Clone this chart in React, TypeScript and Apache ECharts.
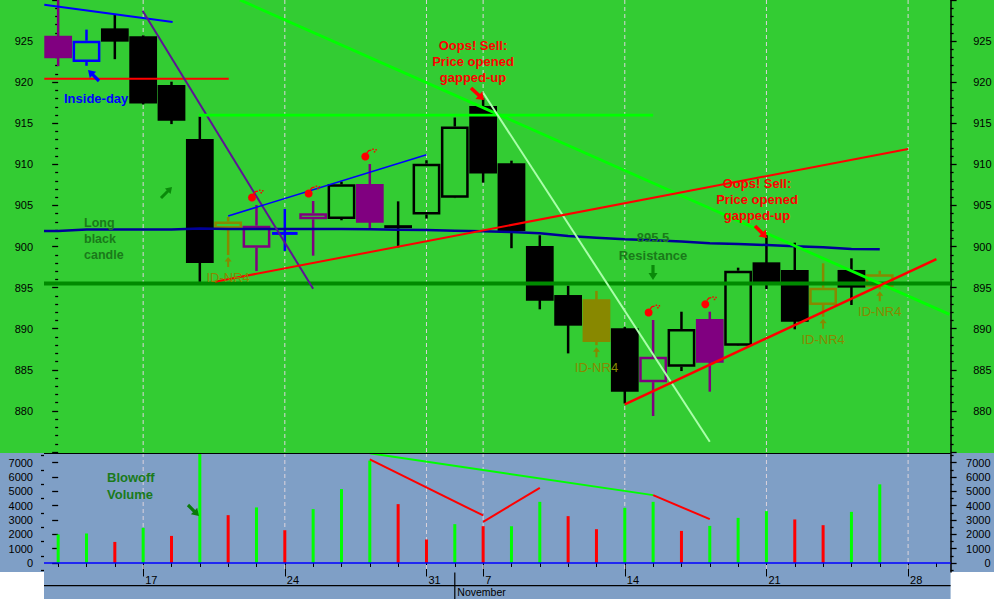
import React, { useEffect, useRef } from 'react';
import * as echarts from 'echarts';

// ---------- data ----------
const dayLabels = ['', '', '', '17', '', '', '', '', '24', '', '', '', '', '31', '', '7', '', '', '', '', '14', '', '', '', '', '21', '', '', '', '', '28', ''];
const monthName = 'November';
const monthStartBar = 14;

const opens = [925.65, 922.45, 926.55, 925.6, 919.66, 913.1, 902.2, 899.86, 901.6, 903.31, 903.35, 907.6, 902.6, 903.9, 905.95, 917.1, 910.13, 900.07, 894.1, 893.6, 890.05, 883.5, 885.38, 891.18, 887.94, 898.08, 897.15, 892.89, 897.15, 895.11];
const highs = [930.2, 926.4, 928.2, 925.7, 920.06, 915.8, 903.6, 905.05, 904.57, 905.54, 907.9, 910.04, 905.5, 910.5, 915.7, 918.04, 910.45, 901.37, 895.24, 894.6, 890.2, 891.06, 892.07, 892.07, 897.43, 901.4, 900.47, 897.96, 898.57, 897.06];
const lows = [921.95, 922.0, 922.8, 917.3, 914.9, 895.7, 898.97, 897.02, 899.46, 898.89, 903.2, 902.2, 899.9, 903.4, 905.9, 907.77, 899.8, 892.36, 887.0, 888.0, 880.9, 879.38, 884.85, 882.34, 887.9, 894.83, 889.93, 891.46, 892.89, 894.8];
const closes = [922.9, 925.05, 924.93, 917.4, 915.3, 898.0, 903.05, 902.54, 901.6, 904.04, 907.57, 902.9, 902.25, 910.08, 914.6, 908.9, 901.9, 893.4, 890.37, 888.4, 882.34, 886.6, 889.97, 885.87, 897.06, 895.65, 890.86, 894.99, 895.0, 896.62];
const candleColors = ['purple', 'blue', 'black', 'black', 'black', 'black', 'olive', 'purple', 'blue', 'purple', 'black', 'purple', 'black', 'black', 'black', 'black', 'black', 'black', 'black', 'olive', 'black', 'purple', 'black', 'purple', 'black', 'black', 'black', 'olive', 'black', 'olive'];
const movingAverage = [901.89, 902.07, 902.07, 902.07, 902.07, 902.2, 902.13, 902.13, 902.13, 902.13, 902.13, 902.1, 902.05, 902.0, 901.93, 901.85, 901.77, 901.61, 901.28, 901.08, 900.88, 900.76, 900.61, 900.39, 900.31, 900.19, 900.03, 899.91, 899.7, 899.67];

const volumes = [1990, 2060, 1470, 2450, 1890, 7900, 3340, 3880, 2290, 3760, 5160, 7150, 4110, 1640, 2710, 2570, 2570, 4270, 3270, 2360, 3850, 4270, 2240, 2590, 3150, 3620, 3040, 2640, 3570, 5490];
const volumeDirection = ['up', 'up', 'down', 'up', 'down', 'up', 'down', 'up', 'down', 'up', 'up', 'up', 'down', 'down', 'up', 'down', 'up', 'up', 'down', 'down', 'up', 'up', 'down', 'up', 'up', 'up', 'down', 'down', 'up', 'up'];

const priceMin = 875;
const priceMax = 930;
const priceTickStep = 5;
const volumeMin = -630;
const volumeMax = 7680;
const volumeLabelTicks = [0, 1000, 2000, 3000, 4000, 5000, 6000, 7000];
const volumeMinorTicks = [-500, 500, 1500, 2500, 3500, 4500, 5500, 6500, 7500];

const resistanceLevel = 895.5;
const idNr4Bars = [6, 19, 27, 29];
const bombBars = [7, 9, 11, 21, 23];

// trendlines: [barIndex, price]
const priceTrendlines = [
  { color: '#0000FF', width: 2, points: [[-0.49, 929.43], [4.04, 927.32]] },
  { color: '#FF0000', width: 2, points: [[-0.49, 920.43], [6.02, 920.43]] },
  { color: '#5E1396', width: 2, points: [[2.98, 928.7], [9.0, 894.87]] },
  { color: '#00FF00', width: 2.8, points: [[6.42, 930], [31.46, 891.75]] },
  { color: '#00FF00', width: 2.8, points: [[4.97, 916.0], [21.0, 916.0]] },
  { color: '#AAFFAA', width: 2, points: [[15.0, 918.72], [23.0, 876.25]] },
  { color: '#0000FF', width: 1.5, points: [[6.0, 903.72], [13.0, 911.18]] },
  { color: '#FF0000', width: 2, points: [[5.54, 895.72], [30.0, 911.87]] },
  { color: '#FF0000', width: 2.5, points: [[20.0, 880.8], [31.0, 898.48]] },
];
// volume trendlines: [barIndex, volume]
const volumeTrendlines = [
  { color: '#00FF00', width: 2, points: [[11.0, 7656], [21.0, 4738]] },
  { color: '#FF0000', width: 2, points: [[11.0, 7236], [15.0, 3317]] },
  { color: '#FF0000', width: 2, points: [[15.0, 2869], [17.0, 5248]] },
  { color: '#FF0000', width: 2, points: [[21.0, 4738], [23.0, 3058]] },
];

const FONT = "'Liberation Sans', Arial, sans-serif";
const GREEN_BG = '#33CC33';
const BLUE_BG = '#7F9FC6';
const DARK_GREEN_TEXT = '#1A7A1A';
const OLIVE = '#888800';
const palette: Record<string, string> = { black: '#000000', purple: '#800080', blue: '#0000FF', olive: OLIVE };
const colorKeys = ['black', 'purple', 'blue', 'olive'];

function arrow(x0: number, y0: number, x1: number, y1: number, color: string, shaft = 1.6, headW = 5, headL = 7) {
  const dx = x1 - x0, dy = y1 - y0;
  const L = Math.hypot(dx, dy);
  const ux = dx / L, uy = dy / L;
  const nx = -uy, ny = ux;
  const bx = x1 - ux * headL, by = y1 - uy * headL;
  const pts = [
    [x0 + nx * shaft, y0 + ny * shaft],
    [bx + nx * shaft, by + ny * shaft],
    [bx + nx * headW, by + ny * headW],
    [x1, y1],
    [bx - nx * headW, by - ny * headW],
    [bx - nx * shaft, by - ny * shaft],
    [x0 - nx * shaft, y0 - ny * shaft],
  ];
  return { type: 'polygon', shape: { points: pts }, style: { fill: color }, z: 60, silent: true };
}

function bomb(x: number, y: number) {
  return [
    { type: 'circle', shape: { cx: x, cy: y, r: 4 }, style: { fill: '#FF0000' }, z: 60, silent: true },
    { type: 'polyline', shape: { points: [[x + 1.5, y - 3.5], [x + 3.5, y - 6], [x + 6, y - 6.5]] }, style: { stroke: '#FF0000', lineWidth: 1.3, fill: 'none' }, z: 60, silent: true },
    { type: 'rect', shape: { x: x + 7, y: y - 8, width: 1.5, height: 1.5 }, style: { fill: '#FF0000' }, z: 60, silent: true },
    { type: 'rect', shape: { x: x + 8.5, y: y - 5.5, width: 1.5, height: 1.5 }, style: { fill: '#FF0000' }, z: 60, silent: true },
    { type: 'rect', shape: { x: x + 10, y: y - 7.5, width: 1.5, height: 1.5 }, style: { fill: '#FF0000' }, z: 60, silent: true },
  ];
}

function text(t: string, x: number, y: number, color: string, font: string, align = 'left', lineHeight = 16, verticalAlign = 'top') {
  return {
    type: 'text',
    x, y,
    z: 60,
    silent: true,
    style: { text: t, fill: color, font, align, verticalAlign, lineHeight },
  };
}

export default function App() {
  const ref = useRef<HTMLDivElement>(null);

  useEffect(() => {
    const el = ref.current;
    if (!el) return;
    const chart = echarts.init(el, null, { renderer: 'svg' });

    const candleData = opens.map((o, i) => [i, o, closes[i], lows[i], highs[i], colorKeys.indexOf(candleColors[i])]);
    const gridBars = dayLabels.map((d, i) => (d ? i : -1)).filter((i) => i >= 0);
    const catData = dayLabels.map((_, i) => 'd' + i);

    const gridLeft = 44;
    const gridRight = 994 - 950.6;

    const priceAxisBase = (position: string) => ({
      type: 'value',
      gridIndex: 0,
      position,
      min: priceMin,
      max: priceMax,
      interval: priceTickStep,
      axisLine: { show: position === 'right', lineStyle: { color: '#000', width: 1.5 } },
      axisTick: { show: true, length: 6, lineStyle: { color: '#000', width: 1.3 } },
      minorTick: { show: true, splitNumber: 5, length: 3, lineStyle: { color: '#000', width: 1.3 } },
      axisLabel: {
        color: '#000', fontSize: 11, fontFamily: FONT,
        margin: position === 'right' ? 41 : 11,
        align: 'right',
        showMinLabel: false, showMaxLabel: false,
        formatter: (v: number) => String(v),
      },
      splitLine: { show: false },
      minorSplitLine: { show: false },
    });

    const volAxis = (position: string, minor: boolean) => ({
      type: 'value',
      gridIndex: 1,
      position,
      min: volumeMin,
      max: volumeMax,
      axisLine: { show: position === 'right' && !minor, lineStyle: { color: '#000', width: 1.5 } },
      axisTick: { show: true, length: minor ? 3 : 6, customValues: minor ? volumeMinorTicks : volumeLabelTicks, lineStyle: { color: '#000', width: 1.3 } },
      axisLabel: minor
        ? { show: false }
        : {
            show: true, customValues: volumeLabelTicks, color: '#000', fontSize: 11, fontFamily: FONT,
            margin: position === 'right' ? 40 : 11, align: 'right',
            formatter: (v: number) => String(Math.round(v)),
          },
      splitLine: { show: false },
    });

    const lineSeries = (tl: any, xi: number, yi: number) => ({
      type: 'line',
      xAxisIndex: xi,
      yAxisIndex: yi,
      data: tl.points,
      symbol: 'none',
      showSymbol: false,
      silent: true,
      z: 4,
      lineStyle: { color: tl.color, width: tl.width },
    });

    const gridLineSeries = (xi: number, yi: number, yRef: number) => ({
      type: 'custom',
      xAxisIndex: xi,
      yAxisIndex: yi,
      silent: true,
      z: 1,
      data: gridBars.map((i) => [i, yRef]),
      encode: { x: 0, y: 1 },
      renderItem: (params: any, api: any) => {
        const x = api.coord([api.value(0), api.value(1)])[0];
        const cs = params.coordSys;
        return {
          type: 'line',
          shape: { x1: x, y1: cs.y, x2: x, y2: cs.y + cs.height },
          style: { stroke: '#DCD4DC', lineWidth: 1, lineDash: [4, 3] },
        };
      },
    });

    const option: any = {
      animation: false,
      backgroundColor: 'transparent',
      grid: [
        { left: gridLeft, right: gridRight, top: 0, height: 452, containLabel: false, outerBoundsMode: 'none' },
        { left: gridLeft, right: gridRight, top: 453, height: 119, containLabel: false, outerBoundsMode: 'none' },
      ],
      xAxis: [
        { type: 'value', gridIndex: 0, min: -0.5, max: 31.5, show: false },
        { type: 'value', gridIndex: 1, min: -0.5, max: 31.5, show: false },
        {
          type: 'category', gridIndex: 1, position: 'bottom', data: catData, boundaryGap: true,
          axisLine: { show: false },
          axisTick: { show: true, alignWithLabel: true, interval: 0, length: 4, lineStyle: { color: '#000', width: 1 } },
          axisLabel: { show: false },
          splitLine: { show: false },
        },
        {
          type: 'category', gridIndex: 1, position: 'bottom', data: catData, boundaryGap: true,
          axisLine: { show: false },
          axisTick: { show: true, alignWithLabel: true, interval: (i: number) => dayLabels[i] !== '', length: 13.5, lineStyle: { color: '#000', width: 1 } },
          axisLabel: {
            show: true,
            interval: (i: number) => dayLabels[i] !== '',
            formatter: (_v: string, i: number) => dayLabels[i],
            align: 'left', verticalAlign: 'top', margin: 2, padding: [0, 0, 0, 2],
            color: '#000', fontSize: 11, fontFamily: FONT,
          },
          splitLine: { show: false },
        },
      ],
      yAxis: [
        priceAxisBase('left'),
        priceAxisBase('right'),
        volAxis('left', false),
        volAxis('left', true),
        volAxis('right', false),
        volAxis('right', true),
      ],
      series: [
        gridLineSeries(0, 0, 900),
        gridLineSeries(1, 2, 0),
        {
          type: 'custom',
          name: 'price',
          xAxisIndex: 0,
          yAxisIndex: 0,
          z: 2,
          silent: true,
          data: candleData,
          encode: { x: 0, y: [1, 2, 3, 4] },
          renderItem: (params: any, api: any) => {
            const i = api.value(0);
            const o = api.value(1), c = api.value(2), l = api.value(3), h = api.value(4);
            const color = palette[colorKeys[api.value(5)]];
            const band = api.size([1, 0])[0];
            const bw = band * 0.98;
            const pHigh = api.coord([i, h]);
            const pLow = api.coord([i, l]);
            const pTop = api.coord([i, Math.max(o, c)]);
            const pBot = api.coord([i, Math.min(o, c)]);
            const cx = pHigh[0];
            const lw = 2.5;
            const children: any[] = [];
            const wick = (y1: number, y2: number) => ({ type: 'line', shape: { x1: cx, y1, x2: cx, y2 }, style: { stroke: color, lineWidth: 2.5 } });
            if (Math.abs(o - c) < 0.05) {
              children.push(wick(pHigh[1], pLow[1]));
              children.push({ type: 'line', shape: { x1: cx - bw * 0.46, y1: pTop[1], x2: cx + bw * 0.46, y2: pTop[1] }, style: { stroke: color, lineWidth: 3 } });
            } else if (o > c) {
              children.push(wick(pHigh[1], pLow[1]));
              const hgt = Math.max(pBot[1] - pTop[1], 3);
              children.push({ type: 'rect', shape: { x: cx - bw / 2, y: pTop[1], width: bw, height: hgt }, style: { fill: color } });
            } else {
              if (pTop[1] > pHigh[1]) children.push(wick(pHigh[1], pTop[1]));
              if (pLow[1] > pBot[1]) children.push(wick(pBot[1], pLow[1]));
              children.push({
                type: 'rect',
                shape: { x: cx - bw / 2 + lw / 2, y: pTop[1] + lw / 2, width: bw - lw, height: Math.max(pBot[1] - pTop[1] - lw, 1) },
                style: { fill: 'none', stroke: color, lineWidth: lw },
              });
            }
            return { type: 'group', children };
          },
        },
        {
          type: 'custom',
          name: 'resistance',
          xAxisIndex: 0,
          yAxisIndex: 0,
          z: 3,
          silent: true,
          data: [[0, resistanceLevel]],
          encode: { x: 0, y: 1 },
          renderItem: (params: any, api: any) => {
            const y = api.coord([api.value(0), api.value(1)])[1];
            const cs = params.coordSys;
            return { type: 'line', shape: { x1: cs.x, y1: y, x2: cs.x + cs.width, y2: y }, style: { stroke: '#008A00', lineWidth: 4 } };
          },
        },
        {
          type: 'line',
          name: 'MA',
          xAxisIndex: 0,
          yAxisIndex: 0,
          data: [[-0.5, movingAverage[0]], ...movingAverage.map((v, i) => [i, v])],
          symbol: 'none',
          showSymbol: false,
          silent: true,
          z: 3,
          lineStyle: { color: '#000099', width: 2.5 },
        },
        ...priceTrendlines.map((tl) => lineSeries(tl, 0, 0)),
        {
          type: 'bar',
          name: 'volume',
          xAxisIndex: 1,
          yAxisIndex: 2,
          barWidth: 3,
          silent: true,
          z: 2,
          data: volumes.map((v, i) => ({ value: [i, v], itemStyle: { color: volumeDirection[i] === 'up' ? '#00FF00' : '#FF0000' } })),
          markLine: {
            silent: true,
            symbol: ['none', 'none'],
            label: { show: false },
            lineStyle: { color: '#0000FF', width: 1.5, type: 'solid' },
            data: [{ yAxis: 0 }],
          },
        },
        ...volumeTrendlines.map((tl) => lineSeries(tl, 1, 2)),
      ],
    };

    chart.setOption(option);

    const toPx = (pt: number[]) => chart.convertToPixel({ xAxisIndex: 0, yAxisIndex: 0 }, pt) as number[];
    const monthX = toPx([monthStartBar, 900])[0];
    const plotRight = 994 - gridRight;

    const elements: any[] = [
      { type: 'rect', shape: { x: 0, y: 0, width: 994, height: 453 }, style: { fill: GREEN_BG }, z: -10, silent: true },
      { type: 'rect', shape: { x: 0, y: 453, width: 994, height: 119 }, style: { fill: BLUE_BG }, z: -10, silent: true },
      { type: 'rect', shape: { x: gridLeft, y: 572, width: plotRight - gridLeft, height: 27 }, style: { fill: BLUE_BG }, z: -10, silent: true },
      { type: 'line', shape: { x1: gridLeft, y1: 453.5, x2: plotRight, y2: 453.5 }, style: { stroke: '#000', lineWidth: 1.2 }, z: 10, silent: true },
      { type: 'line', shape: { x1: gridLeft, y1: 585.7, x2: plotRight, y2: 585.7 }, style: { stroke: '#000', lineWidth: 1.2 }, z: 10, silent: true },
      { type: 'line', shape: { x1: monthX, y1: 572.5, x2: monthX, y2: 599 }, style: { stroke: '#000', lineWidth: 1.2 }, z: 10, silent: true },
      text(monthName, monthX + 2.5, 592.3, '#000', `10.5px ${FONT}`, 'left', 12, 'middle'),
      // annotations
      text('Inside-day', 64, 90, '#0000FF', `bold 13px ${FONT}`),
      arrow(99, 81, 88, 70, '#0000FF', 1.6, 4.5, 7),
      arrow(161, 198, 172, 187, '#0A8A0A', 1.5, 4, 6),
      text('Long\nblack\ncandle', 84, 215, DARK_GREEN_TEXT, `bold 12.5px ${FONT}`, 'left', 16),
      text('Oops! Sell:\nPrice opened\ngapped-up', 473, 37, '#FF0000', `bold 13px ${FONT}`, 'center', 16.2),
      arrow(471, 88, 484, 100, '#FF0000', 1.8, 5, 7),
      text('Oops! Sell:\nPrice opened\ngapped-up', 757, 175, '#FF0000', `bold 13px ${FONT}`, 'center', 16),
      arrow(755, 226, 767, 238, '#FF0000', 1.8, 5, 7),
      text('895.5\nResistance', 653, 228, DARK_GREEN_TEXT, `bold 13px ${FONT}`, 'center', 18),
      arrow(653, 265, 653, 280, '#0A8A0A', 1.6, 4.5, 7),
      text('Blowoff\nVolume', 107, 469, DARK_GREEN_TEXT, `bold 13px ${FONT}`, 'left', 16.7),
      arrow(188, 505, 199, 516, '#0A7A0A', 1.6, 4.5, 7),
    ];

    idNr4Bars.forEach((i) => {
      const [x, y] = toPx([i, lows[i]]);
      elements.push(arrow(x, y + 12, x, y + 2, OLIVE, 1, 3.5, 4.5));
      elements.push(text('ID-NR4', x, y + 14.5, OLIVE, `13px ${FONT}`, 'center'));
    });
    bombBars.forEach((i) => {
      const [x, y] = toPx([i, highs[i]]);
      elements.push(...bomb(x - 4.5, y - 7.5));
    });

    chart.setOption({ graphic: { elements } });

    return () => {
      chart.dispose();
    };
  }, []);

  return (
    <div
      ref={ref}
      style={{ position: 'absolute', left: 0, top: 0, width: 994, height: 599 }}
    />
  );
}
